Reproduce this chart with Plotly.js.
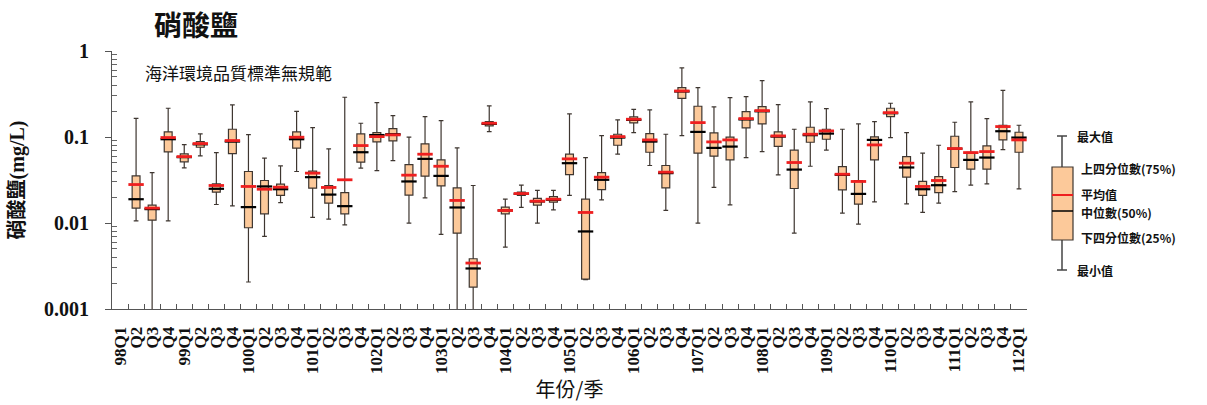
<!DOCTYPE html>
<html>
<head>
<meta charset="utf-8">
<script src="https://cdn.plot.ly/plotly-3.0.1.min.js"></script>
<style>html,body{margin:0;padding:0;background:#fff;}#chart{width:1207px;height:405px;}</style>
</head>
<body>
<div id="chart"></div>
<script>
// ---- categories (year / quarter) ----
var quarters = ['98Q1','98Q2','98Q3','98Q4','99Q1','99Q2','99Q3','99Q4','100Q1','100Q2','100Q3','100Q4',
  '101Q1','101Q2','101Q3','101Q4','102Q1','102Q2','102Q3','102Q4','103Q1','103Q2','103Q3','103Q4',
  '104Q1','104Q2','104Q3','104Q4','105Q1','105Q2','105Q3','105Q4','106Q1','106Q2','106Q3','106Q4',
  '107Q1','107Q2','107Q3','107Q4','108Q1','108Q2','108Q3','108Q4','109Q1','109Q2','109Q3','109Q4',
  '110Q1','110Q2','110Q3','110Q4','111Q1','111Q2','111Q3','111Q4','112Q1'];
var tickLabels = ['98Q1','Q2','Q3','Q4','99Q1','Q2','Q3','Q4','100Q1','Q2','Q3','Q4',
  '101Q1','Q2','Q3','Q4','102Q1','Q2','Q3','Q4','103Q1','Q2','Q3','Q4',
  '104Q1','Q2','Q3','Q4','105Q1','Q2','Q3','Q4','106Q1','Q2','Q3','Q4',
  '107Q1','Q2','Q3','Q4','108Q1','Q2','Q3','Q4','109Q1','Q2','Q3','Q4',
  '110Q1','Q2','Q3','Q4','111Q1','Q2','Q3','Q4','112Q1'];

// ---- statistics (mg/L); 98Q1 has no data ----
var minVals = [null,0.0106,0.0006,0.0106,0.0438,0.0603,0.0164,0.0158,0.00206,0.00698,0.0173,0.0397,
  0.0116,0.0111,0.00953,0.0434,0.0407,0.0532,0.00997,0.0196,0.00736,0.0007,0.0007,0.1157,
  0.00525,0.0152,0.00997,0.01423,0.0209,0.0022,0.0186,0.0631,0.1126,0.0466,0.0140,0.1039,
  0.00997,0.0259,0.01627,0.0577,0.0677,0.0363,0.00762,0.0457,0.0702,0.0130,0.0097,0.0176,
  0.0985,0.0167,0.01326,0.0170,0.0232,0.0275,0.0285,0.0714,0.0250];
var q1Vals = [null,0.0149,0.0108,0.0671,0.0514,0.0760,0.0228,0.0642,0.0088,0.0128,0.0209,0.0741,
  0.0254,0.0170,0.0128,0.0509,0.0877,0.0901,0.0211,0.0350,0.0270,0.00762,0.0018,0.1345,
  0.0128,0.0209,0.0161,0.01748,0.0366,0.00223,0.0245,0.0802,0.1458,0.0665,0.0256,0.282,
  0.0648,0.0598,0.0542,0.1276,0.142,0.078,0.0252,0.0869,0.0942,0.0243,0.01656,0.0542,
  0.1727,0.0341,0.0209,0.0226,0.0442,0.0422,0.0422,0.0925,0.0665];
var medianVals = [null,0.0189,0.0145,0.0942,0.0583,0.0822,0.0250,0.0885,0.0153,0.0266,0.0247,0.0942,
  0.0341,0.0214,0.0157,0.0665,0.1054,0.1077,0.0304,0.0557,0.0353,0.01515,0.00296,0.142,
  0.0140,0.0218,0.0178,0.0186,0.0496,0.00797,0.0318,0.0985,0.158,0.0885,0.0380,0.338,
  0.1146,0.0747,0.0774,0.160,0.199,0.1011,0.0418,0.105,0.1096,0.0363,0.0218,0.0925,
  0.189,0.0442,0.0247,0.0275,0.073,0.0542,0.0577,0.1167,0.0985];
var q3Vals = [null,0.0353,0.0161,0.1146,0.0636,0.0885,0.0285,0.123,0.0397,0.0312,0.0283,0.1146,
  0.0400,0.0273,0.0226,0.1086,0.1126,0.1253,0.0478,0.0832,0.0542,0.0256,0.00384,0.151,
  0.0153,0.0228,0.0193,0.0203,0.0631,0.0189,0.0386,0.1077,0.1712,0.1096,0.0466,0.375,
  0.2277,0.1116,0.0994,0.1974,0.226,0.1146,0.0702,0.1299,0.123,0.0453,0.0312,0.1003,
  0.216,0.0592,0.0304,0.0347,0.102,0.0665,0.0788,0.137,0.1136];
var maxVals = [null,0.165,0.0386,0.216,0.0817,0.1086,0.0659,0.236,0.1067,0.0567,0.0462,0.199,
  0.1287,0.0727,0.2897,0.1445,0.251,0.1774,0.0994,0.1727,0.155,0.0747,0.0273,0.2297,
  0.0189,0.0275,0.0239,0.0239,0.1854,0.0577,0.1039,0.158,0.210,0.2064,0.1077,0.635,
  0.375,0.2238,0.287,0.295,0.452,0.238,0.123,0.256,0.2139,0.123,0.142,0.151,
  0.2467,0.1126,0.0648,0.0802,0.1484,0.256,0.1637,0.349,0.137];
var meanVals = [null,0.0280,0.0149,0.0985,0.0592,0.0839,0.0273,0.0909,0.0266,0.0247,0.0261,0.0994,
  0.0380,0.0259,0.0318,0.0795,0.1011,0.1058,0.0360,0.0631,0.0457,0.0183,0.00342,0.1445,
  0.01398,0.0220,0.01795,0.0189,0.0557,0.01326,0.0341,0.1011,0.1609,0.0925,0.0390,0.343,
  0.147,0.0877,0.0925,0.1637,0.2028,0.103,0.0505,0.1077,0.1177,0.0369,0.0304,0.0809,
  0.192,0.0496,0.0266,0.0312,0.0734,0.0659,0.0677,0.1322,0.0925];

var yTickVals = [0.001, 0.01, 0.1, 1];
var yTickText = ['0.001', '0.01', '0.1', '1'];

// ---- legend texts ----
var legendTexts = ['最大值', '上四分位數(75%)', '平均值', '中位數(50%)', '下四分位數(25%)', '最小值'];

// keep only quarters with data
var idx = [];
for (var i = 0; i < quarters.length; i++) if (q1Vals[i] !== null) idx.push(i);
function pick(arr) { return idx.map(function (k) { return arr[k]; }); }
var xs = pick(quarters);

var FILL = '#FCC99A';
var EDGE = '#3e3630';
var SERIF = 'Liberation Serif, Noto Sans CJK TC, serif';
var CJK = 'Noto Sans CJK TC, Liberation Serif, serif';

var boxTrace = {
  type: 'box', x: xs,
  q1: pick(q1Vals), median: pick(medianVals), q3: pick(q3Vals),
  lowerfence: pick(minVals), upperfence: pick(maxVals),
  fillcolor: FILL, line: {color: EDGE, width: 1.2},
  whiskerwidth: 0.6, boxpoints: false, showlegend: false, hoverinfo: 'skip'
};
var medianTrace = {
  type: 'scatter', mode: 'markers', x: xs, y: pick(medianVals), showlegend: false, hoverinfo: 'skip',
  marker: {symbol: 'line-ew', size: 11, line: {color: '#000000', width: 2.2}}
};
var meanTrace = {
  type: 'scatter', mode: 'markers', x: xs, y: pick(meanVals), showlegend: false, hoverinfo: 'skip',
  marker: {symbol: 'line-ew', size: 11, line: {color: '#ee1f1f', width: 2.8}}
};

// minor ticks for the log axis (2..9 per decade)
var minorVals = [];
for (var d = -3; d < 0; d++) for (var m = 2; m <= 9; m++) minorVals.push(m * Math.pow(10, d));

// pixel -> paper helpers for the hand-drawn legend key
var L = 112, R = 180, T = 51, B = 96, W = 1207, H = 405;
function px(x) { return (x - L) / (W - L - R); }
function py(y) { return (H - B - y) / (H - T - B); }

var shapes = [
  {type: 'line', xref: 'paper', yref: 'paper', x0: px(1062), x1: px(1062), y0: py(136), y1: py(270), line: {color: '#444', width: 1.5}},
  {type: 'line', xref: 'paper', yref: 'paper', x0: px(1057), x1: px(1067), y0: py(136), y1: py(136), line: {color: '#444', width: 1.5}},
  {type: 'line', xref: 'paper', yref: 'paper', x0: px(1057), x1: px(1067), y0: py(270), y1: py(270), line: {color: '#444', width: 1.5}},
  {type: 'rect', xref: 'paper', yref: 'paper', x0: px(1052), x1: px(1073), y0: py(240), y1: py(167), fillcolor: FILL, line: {color: EDGE, width: 1.2}},
  {type: 'line', xref: 'paper', yref: 'paper', x0: px(1052), x1: px(1073), y0: py(195), y1: py(195), line: {color: '#ee1f1f', width: 2}},
  {type: 'line', xref: 'paper', yref: 'paper', x0: px(1052), x1: px(1073), y0: py(211), y1: py(211), line: {color: '#000', width: 1.5}}
];
var legendPos = [[1076, 136], [1080, 168], [1080, 194], [1080, 212], [1080, 237], [1076, 270]];
var annotations = legendPos.map(function (p, k) {
  return {xref: 'paper', yref: 'paper', x: px(p[0]), y: py(p[1]), xanchor: 'left', yanchor: 'middle',
    text: legendTexts[k], showarrow: false, borderpad: 0,
    font: {family: CJK, size: 12, color: '#111', weight: 'bold'}};
});
annotations.push({xref: 'paper', yref: 'paper', x: px(143), y: py(72), xanchor: 'left', yanchor: 'middle',
  text: '海洋環境品質標準無規範', showarrow: false, font: {family: CJK, size: 17, color: '#111'}});

var layout = {
  width: W, height: H,
  margin: {l: L, r: R, t: T, b: B, pad: 0},
  paper_bgcolor: '#fff', plot_bgcolor: '#fff',
  title: {text: '硝酸鹽', x: 196 / W, xanchor: 'center', xref: 'container', y: 1 - 26 / H, yanchor: 'middle', yref: 'container',
    font: {family: CJK, size: 28, color: '#111', weight: 'bold'}},
  showlegend: false,
  boxgap: 0.3,
  xaxis: {
    type: 'category', categoryorder: 'array', categoryarray: quarters, range: [-0.5, quarters.length - 0.5],
    tickmode: 'array', tickvals: quarters, ticktext: tickLabels, tickson: 'boundaries',
    ticks: 'inside', ticklen: 5, tickcolor: '#555', tickangle: -90, ticklabelstandoff: 10,
    tickfont: {family: SERIF, size: 17, color: '#111', weight: 'bold'},
    showline: true, linecolor: '#555', linewidth: 1, showgrid: false, zeroline: false,
    title: {text: '年份/季', font: {family: CJK, size: 20, color: '#111'}, standoff: 6}
  },
  yaxis: {
    type: 'log', range: [-3, 0], tickmode: 'array', tickvals: yTickVals, ticktext: yTickText,
    ticks: 'outside', ticklen: 6, tickcolor: '#555', ticklabelstandoff: 12,
    minor: {tickmode: 'array', tickvals: minorVals, ticks: 'inside', ticklen: 5, tickcolor: '#666', showgrid: false},
    tickfont: {family: SERIF, size: 20, color: '#111', weight: 'bold'},
    showline: true, linecolor: '#555', linewidth: 1, showgrid: false, zeroline: false,
    title: {text: '硝酸鹽(mg/L)', font: {family: SERIF, size: 20, color: '#111', weight: 'bold'}, standoff: 14}
  },
  shapes: shapes,
  annotations: annotations
};

Plotly.newPlot('chart', [boxTrace, medianTrace, meanTrace], layout, {staticPlot: true, displayModeBar: false});
</script>
</body>
</html>
